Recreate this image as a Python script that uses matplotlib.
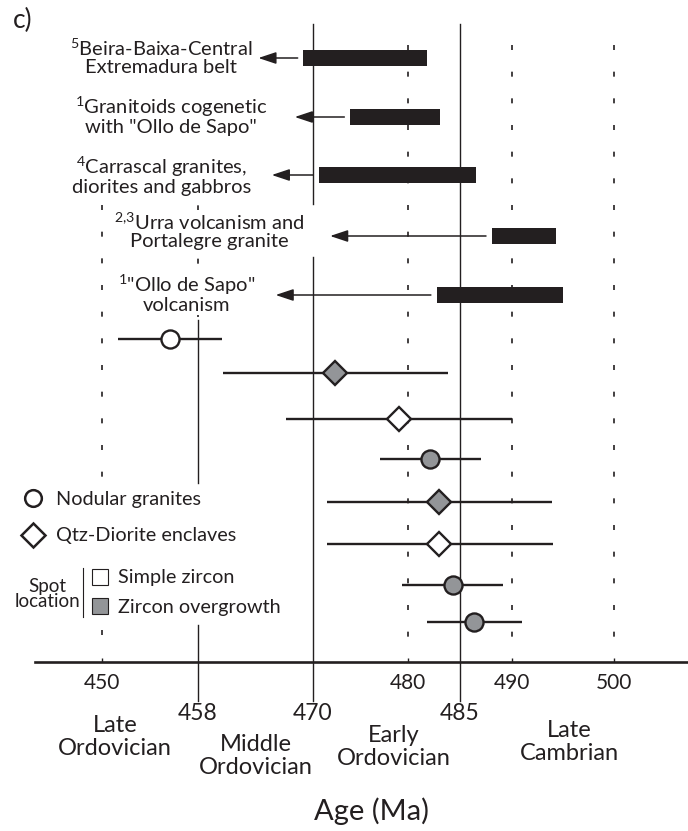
import numpy as np
import matplotlib
matplotlib.use("Agg")
import matplotlib.pyplot as plt
from matplotlib import transforms

plt.rcParams['font.family'] = ['Lato', 'DejaVu Sans']
plt.rcParams['mathtext.default'] = 'regular'
plt.rcParams['lines.scale_dashes'] = False

INK = '#231f20'
GREY = '#939598'

# published magmatic events (age ranges in Ma)
ref_labels = [
    r'$^{5}$Beira-Baixa-Central' + '\nExtremadura belt',
    r'$^{1}$Granitoids cogenetic' + '\nwith "Ollo de Sapo"',
    r'$^{4}$Carrascal granites,' + '\ndiorites and gabbros',
    r'$^{2{,}3}$Urra volcanism and' + '\nPortalegre granite',
    r'$^{1}$"Ollo de Sapo"' + '\nvolcanism',
]
ref_start = [469.0, 473.9, 470.6, 488.1, 482.8]
ref_end = [481.8, 483.1, 486.5, 494.3, 495.0]
arrow_tip = [464.3, 468.1, 465.7, 471.8, 466.1]

# U-Pb spot ages with their uncertainty range (Ma)
spot_age = [455.7, 472.3, 479.1, 482.1, 483.0, 483.0, 484.3, 486.3]
spot_lo = [451.3, 460.6, 467.2, 477.1, 471.5, 471.5, 479.4, 481.8]
spot_hi = [460.5, 483.8, 490.0, 487.0, 493.9, 494.0, 489.1, 491.0]
spot_rock = ['nodular', 'enclave', 'enclave', 'nodular',
             'enclave', 'enclave', 'nodular', 'nodular']
spot_type = ['simple', 'overgrowth', 'simple', 'overgrowth',
             'overgrowth', 'simple', 'overgrowth', 'overgrowth']

# time scale
tick_ages = [450, 480, 490, 500]
boundaries = [458, 470, 485]
periods = ['Late\nOrdovician', 'Middle\nOrdovician', 'Early\nOrdovician', 'Late\nCambrian']

# row layout (pixels from the top of the panel)
bar_rows = [58, 117, 175, 236, 295]
spot_rows = [339, 373, 419, 459, 502, 544, 585, 622]
label_pos = [(161, 57), (171, 115), (162, 175), (209, 231), (187, 293)]
period_pos = [(115, 737), (256, 756), (394, 747), (569, 742)]

# the age axis is stretched unevenly between the stage boundaries
scale_age = np.array([440, 450, 458, 470, 480, 485, 490, 500, 510])
scale_px = np.array([-18, 102, 198, 313, 408, 460, 512, 614, 716])


def fwd(a):
    return np.interp(a, scale_age, scale_px)


def inv(p):
    return np.interp(p, scale_px, scale_age)


W, H = 688, 831
AXIS_Y = 662
fig = plt.figure(figsize=(W / 100, H / 100), dpi=100)
ax = fig.add_axes([35 / W, (H - AXIS_Y) / H, (W - 35) / W, AXIS_Y / H])
ax.set_xscale('function', functions=(fwd, inv))
ax.set_xlim(inv(35), inv(W))
ax.set_ylim(AXIS_Y, 0)

# pixel positions measured from the top-left of the figure
pix = transforms.Affine2D().scale(1 / W, -1 / H).translate(0, 1) + fig.transFigure

for s in ['top', 'left', 'right']:
    ax.spines[s].set_visible(False)
ax.spines['bottom'].set_linewidth(1.9)
ax.spines['bottom'].set_color(INK)
ax.set_yticks([])
ax.set_xticks(tick_ages)
ax.set_xticklabels([str(t) for t in tick_ages])
ax.tick_params(axis='x', direction='in', length=3, width=1, color=INK,
               labelsize=15, pad=8, labelcolor=INK)
ax.xaxis.set_minor_locator(matplotlib.ticker.NullLocator())

# guide lines
dots = (0, (3.6, 15.6))
for a in [480, 490, 500]:
    ax.plot([a, a], [45, 640], color=INK, lw=1.2, ls=dots, zorder=1)
ax.plot([450, 450], [205, 483], color=INK, lw=1.2, ls=dots, zorder=1)
ax.plot([450, 450], [630, 640], color=INK, lw=1.2, ls=dots, zorder=1)
ax.plot([458, 458], [72, 320], color=INK, lw=1.2, ls=dots, zorder=1)
ax.plot([458, 458], [320, 483], color=INK, lw=1.0, zorder=1)
ax.plot([458, 458], [625, 701], color=INK, lw=1.0, zorder=1, clip_on=False)
ax.plot([470, 470], [24, 204], color=INK, lw=1.0, zorder=1)
ax.plot([470, 470], [257, 701], color=INK, lw=1.0, zorder=1, clip_on=False)
ax.plot([485, 485], [24, 701], color=INK, lw=1.0, zorder=1, clip_on=False)

# published events: bar + arrow pointing to the label
ax.barh(bar_rows, np.subtract(ref_end, ref_start), left=ref_start,
        height=16, color=INK, zorder=3)
for y, start, tip, text, (tx, ty) in zip(bar_rows, ref_start, arrow_tip,
                                         ref_labels, label_pos):
    ax.annotate('', xy=(tip, y), xytext=(start - 0.6, y),
                arrowprops=dict(arrowstyle='-|>,head_length=0.9,head_width=0.3',
                                mutation_scale=12, lw=1.1, color=INK,
                                shrinkA=0, shrinkB=0), zorder=2)
    ax.text(tx, ty, text, transform=pix, ha='center', va='center',
            multialignment='center', fontsize=14.5, color=INK, linespacing=1.0,
            bbox=dict(facecolor='white', edgecolor='none', pad=1), zorder=2)

# spot ages
for y, a, lo, hi, rock, kind in zip(spot_rows, spot_age, spot_lo, spot_hi,
                                    spot_rock, spot_type):
    ax.plot([lo, hi], [y, y], color=INK, lw=1.7, zorder=3, solid_capstyle='butt')
    marker = 'o' if rock == 'nodular' else 'D'
    ms = 13 if rock == 'nodular' else 12
    face = 'white' if kind == 'simple' else GREY
    ax.plot(a, y, marker=marker, ms=ms, mfc=face, mec=INK, mew=1.7, zorder=4)

# stage boundaries and names
for b in boundaries:
    ax.text(b, 714, str(b), ha='center', va='center', fontsize=16.5, color=INK)
for name, (px, py) in zip(periods, period_pos):
    ax.text(px, py, name, transform=pix, ha='center', va='center',
            multialignment='center', fontsize=17, color=INK, linespacing=1.15)
ax.text(371, 811, 'Age (Ma)', transform=pix, ha='center', va='center',
        fontsize=21, color=INK)
ax.text(13, 20, 'c)', transform=pix, ha='left', va='center', fontsize=19, color=INK)

# legend
ax.plot(33, 498, marker='o', ms=12, mfc='white', mec=INK, mew=1.8,
        transform=pix, clip_on=False)
ax.text(56, 499, 'Nodular granites', transform=pix, va='center', fontsize=14.3, color=INK)
ax.plot(33, 535, marker='D', ms=12, mfc='white', mec=INK, mew=1.8,
        transform=pix, clip_on=False)
ax.text(56, 536, 'Qtz-Diorite enclaves', transform=pix, va='center', fontsize=14.3, color=INK)
ax.plot(100, 577, marker='s', ms=11, mfc='white', mec=INK, mew=0.8,
        transform=pix, clip_on=False)
ax.text(118, 577, 'Simple zircon', transform=pix, va='center', fontsize=14.3, color=INK)
ax.plot(100, 606, marker='s', ms=11, mfc=GREY, mec=INK, mew=0.8,
        transform=pix, clip_on=False)
ax.text(118, 607, 'Zircon overgrowth', transform=pix, va='center', fontsize=14.3, color=INK)
ax.text(47, 594, 'Spot\nlocation', transform=pix, ha='center', va='center',
        multialignment='center', fontsize=13.5, color=INK, linespacing=0.9)
ax.plot([83, 83], [568, 617], color=INK, lw=0.8, transform=pix, clip_on=False)

fig.savefig('out.png', dpi=100)
